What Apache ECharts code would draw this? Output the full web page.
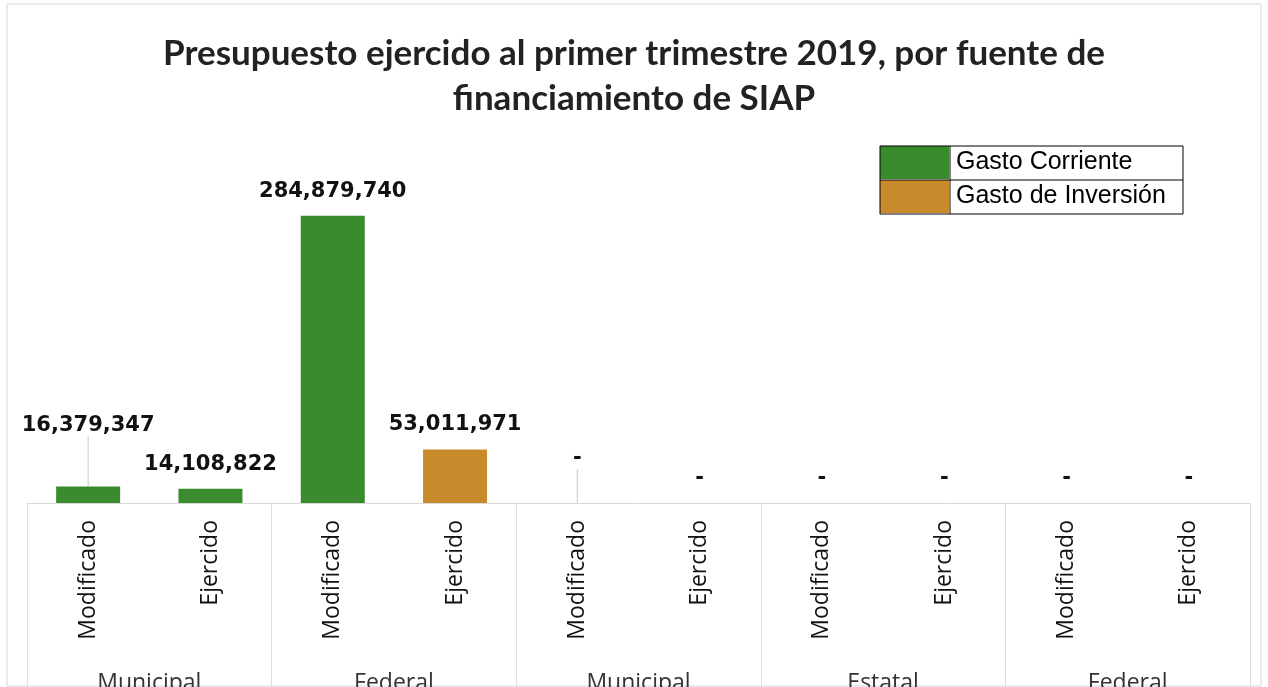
<!DOCTYPE html>
<html lang="es">
<head>
    <meta charset="UTF-8">
    <title>Presupuesto SIAP</title>
    <style>
        body { margin: 0; background: #fff; }
    </style>
</head>
<body>
<div id="main" style="width: 1268px;height:687px;"></div>
<script src="https://cdn.jsdelivr.net/npm/echarts@6/dist/echarts.min.js"></script>
<script>
    // datos
    var categorias = ['Modificado', 'Ejercido', 'Modificado', 'Ejercido', 'Modificado',
        'Ejercido', 'Modificado', 'Ejercido', 'Modificado', 'Ejercido'];
    var fuentes = ['Municipal', 'Federal', 'Municipal', 'Estatal', 'Federal'];
    var gastoCorriente = [16379347, 14108822, 284879740, null, 0, 0, 0, 0, 0, 0];
    var gastoInversion = [null, null, null, 53011971, null, null, null, null, null, null];

    var myChart = echarts.init(document.getElementById('main'));

    function fmt(p) {
        if (p.value === 0) return '-';
        return Number(p.value).toLocaleString('en-US');
    }

    // etiquetas que en el original estan desplazadas hacia arriba (con linea guia)
    var desplazar = {0: -36, 4: -20};

    var etiqueta = {
        show: true,
        position: 'top',
        distance: 14,
        formatter: fmt,
        color: '#111',
        fontFamily: 'DejaVu Sans',
        fontWeight: 'bold',
        fontSize: 21
    };

    var datosCorriente = gastoCorriente.map(function (v, i) {
        if (desplazar[i] !== undefined) {
            return {value: v, labelLine: {show: true, lineStyle: {color: '#c8c8c8', width: 1}}};
        }
        return v;
    });

    var option = {
        title: {
            text: 'Presupuesto ejercido al primer trimestre 2019, por fuente de\nfinanciamiento de SIAP',
            left: 'center',
            top: 26,
            textStyle: {
                fontFamily: 'Lato',
                fontWeight: 'bold',
                fontSize: 35,
                lineHeight: 45,
                color: '#222'
            }
        },
        legend: {
            orient: 'vertical',
            left: 880,
            top: 146,
            padding: 0,
            itemGap: 1,
            itemWidth: 69,
            itemHeight: 33,
            icon: 'rect',
            textStyle: {
                fontFamily: 'Liberation Sans',
                fontSize: 25,
                color: '#000',
                padding: [0, 0, 0, 2]
            },
            data: ['Gasto Corriente', 'Gasto de Inversión']
        },
        // marco de la tabla de la leyenda y borde exterior
        graphic: [
            {type: 'rect', shape: {x: 880, y: 146, width: 303, height: 68}, style: {fill: 'none', stroke: '#000', lineWidth: 1}, z: 10},
            {type: 'line', shape: {x1: 880, y1: 180, x2: 1183, y2: 180}, style: {stroke: '#000', lineWidth: 1}, z: 10},
            {type: 'line', shape: {x1: 950, y1: 146, x2: 950, y2: 214}, style: {stroke: '#000', lineWidth: 1}, z: 10},
            {type: 'rect', shape: {x: 7, y: 4, width: 1254, height: 682}, style: {fill: 'none', stroke: '#d6d6d6', lineWidth: 1}}
        ],
        grid: {
            left: 27,
            right: 18,
            top: 140,
            bottom: 184,
            outerBoundsMode: 'none'
        },
        xAxis: [
            {
                type: 'category',
                data: categorias,
                axisLine: {lineStyle: {color: '#d9d9d9'}},
                axisTick: {
                    show: true,
                    interval: function (index) { return index % 2 === 0; },
                    length: 184,
                    lineStyle: {color: '#dedede'}
                },
                axisLabel: {
                    rotate: 90,
                    interval: 0,
                    margin: 17,
                    fontFamily: 'Open Sans',
                    fontSize: 23,
                    color: '#111'
                }
            },
            {
                type: 'category',
                data: fuentes,
                position: 'bottom',
                offset: 166,
                axisLine: {show: false},
                axisTick: {show: false},
                axisLabel: {
                    interval: 0,
                    margin: 3,
                    fontFamily: 'Open Sans',
                    fontSize: 23,
                    color: '#333'
                }
            }
        ],
        yAxis: {
            type: 'value',
            min: 0,
            max: 360000000,
            show: false,
            splitLine: {show: false}
        },
        series: [
            {
                name: 'Gasto Corriente',
                type: 'bar',
                stack: 'total',
                barWidth: 64,
                itemStyle: {color: '#3a8a2e'},
                label: etiqueta,
                labelLayout: function (params) {
                    if (desplazar[params.dataIndex] !== undefined) {
                        return {dy: desplazar[params.dataIndex]};
                    }
                },
                data: datosCorriente
            },
            {
                name: 'Gasto de Inversión',
                type: 'bar',
                stack: 'total',
                barWidth: 64,
                itemStyle: {color: '#c88a2a'},
                label: etiqueta,
                data: gastoInversion
            }
        ]
    };
    myChart.setOption(option);
</script>
</body>
</html>
